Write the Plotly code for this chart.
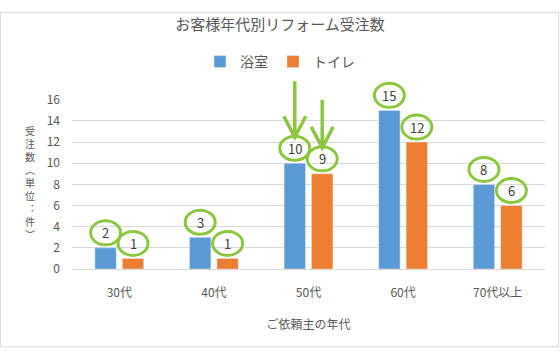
import plotly.graph_objects as go

categories = ["30代", "40代", "50代", "60代", "70代以上"]
bath = [2, 3, 10, 15, 8]
toilet = [1, 1, 9, 12, 6]
series_names = ["浴室", "トイレ"]
arrow_category = 2  # 50代: both bars get an arrow
y_ticks = [0, 2, 4, 6, 8, 10, 12, 14, 16]
y_max = 16

W, H = 560, 352
ML, MR, MT, MB = 72, 15, 92, 83
BARGAP = 0.42
FONT = "Noto Sans CJK JP"
GRAY = "#595959"
GREEN = "#8DC63F"
BLUE = "#5B9BD5"
ORANGE = "#ED7D31"

fig = go.Figure()
fig.add_bar(x=categories, y=bath, name=series_names[0], marker_color=BLUE)
fig.add_bar(x=categories, y=toilet, name=series_names[1], marker_color=ORANGE)

off = (1 - BARGAP) / 4
shapes = []
annotations = []
for s, (vals, sign) in enumerate([(bath, -1), (toilet, 1)]):
    for i, v in enumerate(vals):
        xa = i + sign * off
        ya = v / y_max  # paper fraction of the linear [0, y_max] axis
        shapes.append(dict(type="circle", xref="x", yref="paper",
                           xsizemode="pixel", ysizemode="pixel",
                           xanchor=xa, yanchor=ya,
                           x0=-15, x1=15, y0=3, y1=27,
                           line=dict(color=GREEN, width=3), layer="above"))
        annotations.append(dict(x=xa, y=v, xref="x", yref="y", text=str(v),
                                showarrow=False, yshift=15, yanchor="middle",
                                font=dict(family=FONT, size=13, color="#404040")))
        if i == arrow_category:
            length = 56 if s == 0 else 48
            tip = 26
            shapes.append(dict(type="path", xref="x", yref="paper",
                               xsizemode="pixel", ysizemode="pixel",
                               xanchor=xa, yanchor=ya,
                               path=f"M 0,{tip+length} L 0,{tip} M -11,{tip+21} L 0,{tip} L 11,{tip+21}",
                               line=dict(color=GREEN, width=3.5), layer="above"))

pw = W - ML - MR
ph = H - MT - MB
shapes.append(dict(type="rect", xref="paper", yref="paper",
                   x0=-(ML - 0.5) / pw, x1=1 + (MR - 1.5) / pw,
                   y0=-(MB - 1.5) / ph, y1=1 + (MT - 0.5) / ph,
                   line=dict(color="#D9D9D9", width=1), layer="below"))

annotations.append(dict(xref="paper", yref="paper",
                        x=-(ML - 30) / pw, y=(H - MB - 178) / ph,
                        text="<br>".join(list("受注数︵単位︓件︶")),
                        showarrow=False, xanchor="center", yanchor="middle",
                        font=dict(family=FONT, size=10, color=GRAY)))

fig.update_layout(
    width=W, height=H,
    margin=dict(l=ML, r=MR, t=MT, b=MB),
    paper_bgcolor="white", plot_bgcolor="white",
    barmode="group", bargap=BARGAP, bargroupgap=0.22,
    title=dict(text="お客様年代別リフォーム受注数", x=0.5, xref="container", xanchor="center",
               y=1 - 25 / H, yref="container", yanchor="middle",
               font=dict(family=FONT, size=15, color=GRAY)),
    legend=dict(orientation="h", x=0.5, xref="container", xanchor="center",
                y=1 - 62 / H, yref="container", yanchor="middle",
                font=dict(family=FONT, size=14, color=GRAY), itemwidth=30),
    xaxis=dict(showgrid=False, showline=True, linecolor="#D9D9D9", ticks="",
               tickfont=dict(family=FONT, size=12, color=GRAY), ticklabelstandoff=13,
               title=dict(text="ご依頼主の年代", standoff=21,
                          font=dict(family=FONT, size=12, color=GRAY))),
    yaxis=dict(range=[0, y_max], tickvals=y_ticks, showgrid=True, gridcolor="#D9D9D9",
               zeroline=False, ticks="", ticklabelstandoff=11,
               tickfont=dict(family=FONT, size=12, color=GRAY)),
    shapes=shapes, annotations=annotations,
)

fig.write_html("out.html")
